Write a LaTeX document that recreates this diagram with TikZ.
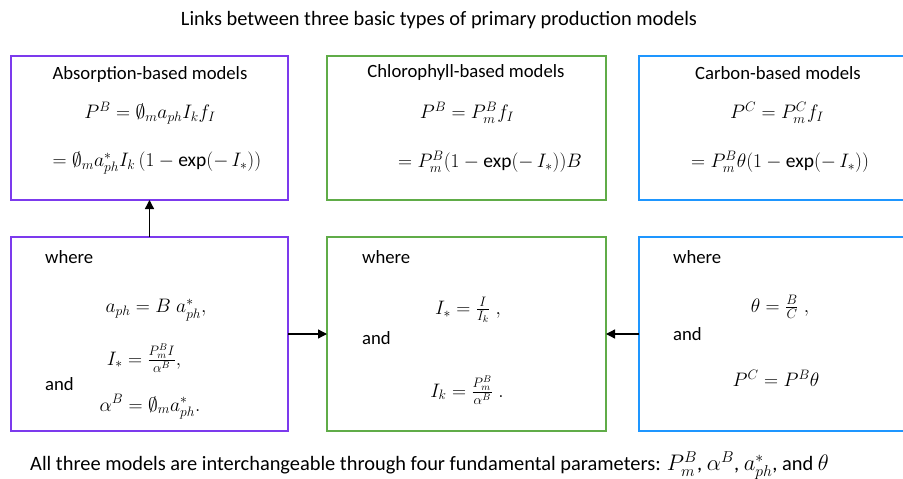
\RequirePackage{fix-cm}
\documentclass[tikz,border=0pt]{standalone}
\usepackage{amsmath}
\usepackage{fontspec}
\setmainfont{Carlito}
\usetikzlibrary{arrows.meta}
\definecolor{cpurple}{RGB}{124,58,237}
\definecolor{cgreen}{RGB}{96,172,72}
\definecolor{cblue}{RGB}{30,150,255}
\newcommand{\myexp}{\text{exp}}
\newcommand{\footmath}[1]{{\fontsize{22.5}{24}\selectfont$#1$}}
\begin{document}
\begin{tikzpicture}[x=1pt,y=-1pt,
  box/.style={draw, line width=1.6pt, inner sep=0pt, outer sep=0pt, anchor=north west, minimum width=277pt},
  topbox/.style={box, minimum height=144pt},
  botbox/.style={box, minimum height=194pt},
  txt/.style={inner sep=0pt, font=\fontsize{18.7}{22}\selectfont},
  mth/.style={inner sep=0pt, font=\fontsize{19.5}{22}\selectfont},
  lbl/.style={txt, anchor=west},
  arr/.style={line width=1.3pt, -{Triangle[length=9pt,width=9pt]}}]
\useasboundingbox (0,0) rectangle (903,479);
\clip (0,0) rectangle (903,479);
% title
\node[txt, font=\fontsize{20.4}{24}\selectfont] (title) at (439,20) {Links between three basic types of primary production models};
% top boxes
\node[topbox, draw=cpurple] (absbox) at (11,56) {};
\node[topbox, draw=cgreen, minimum width=279pt] (chlbox) at (327,56) {};
\node[topbox, draw=cblue, minimum width=290pt] (carbox) at (639,56) {};
% bottom boxes
\node[botbox, draw=cpurple] (abswhere) at (11,237) {};
\node[botbox, draw=cgreen, minimum width=279pt] (chlwhere) at (327,237) {};
\node[botbox, draw=cblue, minimum width=290pt] (carwhere) at (639,237) {};
% absorption top
\node[txt] (abst) at (150,75) {Absorption-based models};
\node[mth] (abs1) at (150,113) {$P^{B}=\emptyset_{m}a_{ph}I_{k}f_{I}$};
\node[mth] (abs2) at (157,163) {$=\emptyset_{m}a^{*}_{ph}I_{k}\,(1-\myexp(-\,I_{*}))$};
% chlorophyll top
\node[txt] (chlt) at (466,73) {Chlorophyll-based models};
\node[mth] (chl1) at (467,113) {$P^{B}=P^{B}_{m}f_{I}$};
\node[mth] (chl2) at (490,162) {$=P^{B}_{m}(1-\myexp(-\,I_{*}))B$};
% carbon top
\node[txt] (cart) at (778,73) {Carbon-based models};
\node[mth] (car1) at (777,113) {$P^{C}=P^{C}_{m}f_{I}$};
\node[mth] (car2) at (780,162) {$=P^{B}_{m}\theta(1-\myexp(-\,I_{*}))$};
% absorption bottom
\node[lbl] (absw) at (45,257) {where};
\node[mth] (absa) at (156,310) {$a_{ph}=B\;a^{*}_{ph},$};
\node[mth] (absi) at (144,358) {$I_{*}=\frac{P^{B}_{m}I}{\alpha^{B}},$};
\node[lbl] (absand) at (45,384) {and};
\node[mth] (absal) at (150,407) {$\alpha^{B}=\emptyset_{m}a^{*}_{ph}.$};
% chlorophyll bottom
\node[lbl] (chlw) at (362,257) {where};
\node[mth] (chli) at (468,310) {$I_{*}=\frac{I}{I_{k}}\;,$};
\node[lbl] (chland) at (362,338) {and};
\node[mth] (chlk) at (467,390) {$I_{k}=\frac{P^{B}_{m}}{\alpha^{B}}\;.$};
% carbon bottom
\node[lbl] (carw) at (673,257) {where};
\node[mth] (cart2) at (780,307) {$\theta=\frac{B}{C}\;,$};
\node[lbl] (carand) at (673,334) {and};
\node[mth] (carp) at (776,378) {$P^{C}=P^{B}\theta$};
% connectors
\draw[arr] (abswhere.north) -- (absbox.south);
\draw[arr] (abswhere.east) -- (chlwhere.west);
\draw[arr] (carwhere.west) -- (chlwhere.east);
% footer
\node[txt, anchor=west, font=\fontsize{20.4}{24}\selectfont] (foot) at (30,466) {All three models are interchangeable through four fundamental parameters: \footmath{P^{B}_{m}}, \footmath{\alpha^{B}}, \footmath{a^{*}_{ph}}, and \footmath{\theta}};
\end{tikzpicture}
\end{document}
